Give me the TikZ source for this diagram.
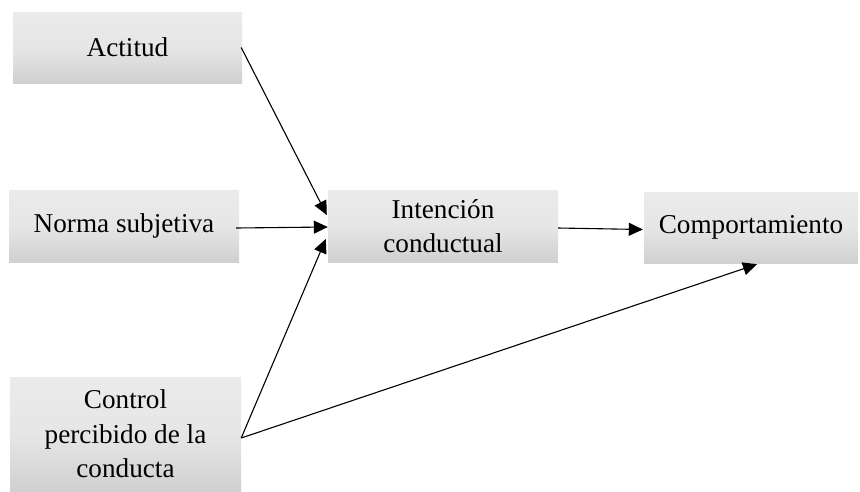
\documentclass[tikz,border=0pt]{standalone}
\usepackage{fontspec}
\setmainfont{Liberation Serif}
\usetikzlibrary{arrows.meta,calc}
\definecolor{boxtop}{HTML}{EBEBEB}
\definecolor{boxmid}{HTML}{E6E6E6}
\definecolor{boxbot}{HTML}{D0D0D0}
\begin{document}
\begin{tikzpicture}[x=1pt,y=-1pt,
  concept/.style={rectangle, top color=boxtop, bottom color=boxbot, middle color=boxmid,
    draw=none, align=center, inner sep=0pt,
    font=\fontsize{27.2}{34.5}\selectfont},
  link/.style={draw=black, line width=1.1pt, -{Triangle[length=14pt,width=13pt]}}]
  \useasboundingbox (0,0) rectangle (860,491);

  % factors on the left
  \node[concept, minimum width=229pt, minimum height=71pt] (act) at (127.5,47.5) {Actitud};
  \node[concept, minimum width=230pt, minimum height=72pt] (norma) at (124,226) {Norma subjetiva};
  \node[concept, minimum width=231pt, minimum height=114pt] (ctrl) at (125.5,434)
    {Control\\percibido de la\\conducta};

  % intention and behaviour
  \node[concept, minimum width=230pt, minimum height=72pt] (int) at (443,226)
    {Intención\\conductual};
  \node[concept, minimum width=214pt, minimum height=71pt] (comp) at (751,227.5) {Comportamiento};

  % arrow end points
  \coordinate (actS) at ($(act.east)+(-1,0)$);
  \coordinate (normaS) at ($(norma.east)+(-3,2)$);
  \coordinate (ctrlS) at ($(ctrl.east)+(0,4)$);
  \coordinate (intA) at ($(int.west)+(-1,-11)$);
  \coordinate (intB) at ($(int.west)+(0,1)$);
  \coordinate (intC) at ($(int.west)+(-2,13)$);
  \coordinate (intS) at ($(int.east)+(0,2)$);
  \coordinate (compW) at ($(comp.west)+(-1,2)$);
  \coordinate (compB) at ($(comp.south)+(6,1)$);

  \draw[link] (actS) -- (intA);
  \draw[link] (normaS) -- (intB);
  \draw[link] (ctrlS) -- (intC);
  \draw[link] (intS) -- (compW);
  \draw[link] (ctrlS) -- (compB);
\end{tikzpicture}
\end{document}
